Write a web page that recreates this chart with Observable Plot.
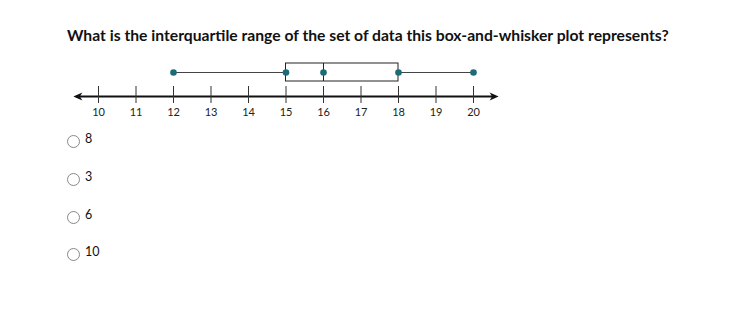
<!DOCTYPE html>
<html><head><meta charset="utf-8">
<script src="https://cdn.jsdelivr.net/npm/d3@7"></script>
<script src="https://cdn.jsdelivr.net/npm/@observablehq/plot@0.6"></script>
<style>
body{margin:0;background:#fff;width:742px;height:318px;overflow:hidden;position:relative;font-family:Lato,"Open Sans",sans-serif;color:#111;}
#title{position:absolute;left:67px;top:25px;font-size:15.7px;line-height:20px;font-weight:700;white-space:nowrap;}
#chart{position:absolute;left:0;top:50px;}
.opt{position:absolute;left:67px;height:14px;}
.opt .circ{position:absolute;left:0;top:0;width:11px;height:11px;border:1px solid #888;border-radius:50%;box-sizing:content-box;}
.opt .lab{position:absolute;left:18px;top:-3px;font-size:12.5px;line-height:14px;white-space:nowrap;}
</style></head><body>
<div id="title"></div>
<div id="chart"></div>
<div id="options"></div>
<script>
const question = "What is the interquartile range of the set of data this box-and-whisker plot represents?";
const tickValues = [10, 11, 12, 13, 14, 15, 16, 17, 18, 19, 20];
const summaryNames = ["min", "q1", "median", "q3", "max"];
const summaryValues = [12, 15, 16, 18, 20];
const axisExtent = [9.33, 20.67];
const answerChoices = ["8", "3", "6", "10"];

const s = Object.fromEntries(summaryNames.map((n, i) => [n, summaryValues[i]]));
const whiskers = [{row: "box", a: s.min, b: s.q1}, {row: "box", a: s.q3, b: s.max}];
const box = [{row: "box", a: s.q1, b: s.q3}];
const medians = [{row: "box", x: s.median}];
const axisLine = [{row: "axis", a: axisExtent[0], b: axisExtent[1]}];
const arrowHeads = [{row: "axis", x: axisExtent[0], dir: 180}, {row: "axis", x: axisExtent[1], dir: 0}];

// filled dart arrowhead, tip at the origin pointing right
const dart = {
  draw(ctx) {
    ctx.moveTo(0, 0);
    ctx.lineTo(-9, -4);
    ctx.lineTo(-6.5, 0);
    ctx.lineTo(-9, 4);
    ctx.closePath();
  }
};

document.getElementById("title").textContent = question;

const chart = Plot.plot({
  width: 742,
  height: 75,
  marginTop: 0, marginBottom: 0, marginLeft: 0, marginRight: 0,
  x: {domain: [10, 20], range: [98, 473], axis: null},
  y: {type: "band", domain: ["box", "axis"], range: [10, 58], paddingInner: 0.25, paddingOuter: 0.125, axis: null},
  style: {fontFamily: "Lato, 'Open Sans', sans-serif", background: "white"},
  marks: [
    Plot.ruleY(whiskers, {y: "row", x1: "a", x2: "b", stroke: "#444", strokeWidth: 1}),
    Plot.barX(box, {y: "row", x1: "a", x2: "b", fill: "white", stroke: "#222", strokeWidth: 1}),
    Plot.tickX(medians, {y: "row", x: "x", stroke: "#222", strokeWidth: 1}),
    Plot.dot(summaryValues, {x: d => d, y: () => "box", r: 3.3, fill: "#1c6c75"}),
    Plot.ruleY(axisLine, {y: "row", x1: "a", x2: "b", stroke: "#111", strokeWidth: 2, insetLeft: 3, insetRight: 3}),
    Plot.dot(arrowHeads, {x: "x", y: "row", rotate: "dir", symbol: dart, fill: "#111", stroke: "none"}),
    Plot.tickX(tickValues, {x: d => d, y: () => "axis", insetTop: -1, insetBottom: 2, stroke: "#333", strokeWidth: 1}),
    Plot.text(tickValues, {x: d => d, y: () => "axis", dy: 16, text: d => String(d), fontSize: 11, fill: "#222"})
  ]
});
document.getElementById("chart").appendChild(chart);

const optTop = 135;
const optStep = 37.8;
const opts = document.getElementById("options");
answerChoices.forEach((c, i) => {
  const d = document.createElement("div");
  d.className = "opt";
  d.style.top = Math.round(optTop + i * optStep) + "px";
  d.innerHTML = '<div class="circ"></div><div class="lab"></div>';
  d.querySelector(".lab").textContent = c;
  opts.appendChild(d);
});
</script>
</body></html>
